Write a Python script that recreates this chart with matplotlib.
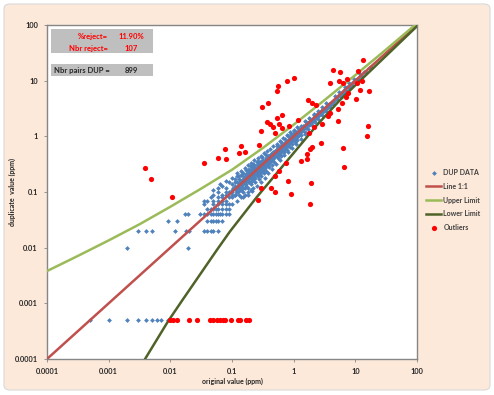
import matplotlib.pyplot as plt
from matplotlib.patches import FancyBboxPatch, Rectangle

plt.rcParams['font.family'] = ['Lato', 'DejaVu Sans']
plt.rcParams['font.weight'] = 'bold'

# summary numbers shown in the grey boxes
pct_reject = "11.90%"
nbr_reject = 107
nbr_pairs = 899

# duplicate pairs (original, duplicate) in ppm
dup_floor = [(0.0005, 0.0005), (0.001, 0.0005), (0.002, 0.0005), (0.003, 0.0005),
             (0.004, 0.0005), (0.005, 0.0005), (0.006, 0.0005), (0.007, 0.0005),
             (0.009, 0.0005)]

dup_low = [(0.002, 0.01), (0.003, 0.02), (0.004, 0.02), (0.005, 0.02), (0.009, 0.03),
           (0.013, 0.03), (0.012, 0.02), (0.017, 0.04), (0.019, 0.04), (0.018, 0.02),
           (0.02, 0.02), (0.019, 0.01),
           (0.035, 0.02), (0.04, 0.02), (0.045, 0.02), (0.05, 0.02), (0.06, 0.02),
           (0.04, 0.03), (0.045, 0.03), (0.05, 0.03), (0.055, 0.03), (0.06, 0.03), (0.07, 0.03),
           (0.03, 0.04), (0.035, 0.04), (0.04, 0.04), (0.045, 0.04), (0.05, 0.04), (0.055, 0.04),
           (0.06, 0.04), (0.065, 0.04), (0.07, 0.04), (0.08, 0.04), (0.09, 0.04),
           (0.04, 0.05), (0.045, 0.05), (0.05, 0.05), (0.055, 0.05), (0.06, 0.05), (0.07, 0.05),
           (0.08, 0.05), (0.09, 0.05),
           (0.035, 0.06), (0.05, 0.06), (0.06, 0.06), (0.07, 0.06), (0.08, 0.06), (0.09, 0.06),
           (0.1, 0.06),
           (0.035, 0.07), (0.04, 0.07), (0.05, 0.07), (0.06, 0.07), (0.07, 0.07), (0.08, 0.07),
           (0.045, 0.08), (0.06, 0.08), (0.07, 0.08), (0.09, 0.08), (0.1, 0.08),
           (0.05, 0.09), (0.07, 0.09), (0.08, 0.09), (0.1, 0.09), (0.11, 0.09),
           (0.06, 0.1), (0.08, 0.1), (0.09, 0.1), (0.1, 0.1), (0.12, 0.1),
           (0.06, 0.12), (0.065, 0.14), (0.07, 0.13), (0.08, 0.12), (0.05, 0.11),
           (0.09, 0.15), (0.08, 0.16)]

dup_mid = [(0.10, 0.11), (0.10, 0.14), (0.11, 0.09), (0.11, 0.13), (0.11, 0.17), (0.12, 0.10),
           (0.12, 0.12), (0.12, 0.15), (0.12, 0.19), (0.13, 0.09), (0.13, 0.12), (0.13, 0.14),
           (0.13, 0.17), (0.14, 0.11), (0.14, 0.13), (0.14, 0.16), (0.14, 0.20), (0.15, 0.10),
           (0.15, 0.14), (0.15, 0.17), (0.15, 0.22), (0.16, 0.12), (0.16, 0.15), (0.16, 0.18),
           (0.17, 0.13), (0.17, 0.16), (0.17, 0.21), (0.17, 0.25), (0.18, 0.12), (0.18, 0.17),
           (0.18, 0.19), (0.18, 0.23), (0.19, 0.15), (0.19, 0.20), (0.19, 0.26), (0.20, 0.14),
           (0.20, 0.18), (0.20, 0.21), (0.20, 0.24), (0.20, 0.29),
           (0.12, 0.07), (0.14, 0.08), (0.16, 0.09), (0.18, 0.10), (0.20, 0.11), (0.22, 0.12),
           (0.21, 0.19), (0.21, 0.25), (0.22, 0.17), (0.22, 0.22), (0.22, 0.27), (0.23, 0.20),
           (0.23, 0.24), (0.23, 0.31), (0.24, 0.18), (0.24, 0.22), (0.24, 0.27), (0.25, 0.21),
           (0.25, 0.25), (0.25, 0.30), (0.25, 0.35), (0.26, 0.19), (0.26, 0.24), (0.26, 0.28),
           (0.27, 0.22), (0.27, 0.26), (0.27, 0.33), (0.28, 0.21), (0.28, 0.25), (0.28, 0.30),
           (0.29, 0.24), (0.29, 0.28), (0.29, 0.36), (0.30, 0.23), (0.30, 0.27), (0.30, 0.31),
           (0.31, 0.26), (0.31, 0.34), (0.32, 0.25), (0.32, 0.29), (0.32, 0.38), (0.33, 0.28),
           (0.33, 0.32), (0.34, 0.27), (0.34, 0.35), (0.35, 0.30), (0.35, 0.33), (0.35, 0.41),
           (0.36, 0.29), (0.36, 0.37), (0.37, 0.32), (0.37, 0.36), (0.38, 0.30), (0.38, 0.40),
           (0.39, 0.35), (0.39, 0.44), (0.40, 0.33), (0.40, 0.38), (0.41, 0.36), (0.41, 0.42),
           (0.42, 0.34), (0.42, 0.47), (0.43, 0.39), (0.44, 0.37), (0.44, 0.43), (0.45, 0.41),
           (0.45, 0.50), (0.46, 0.39), (0.47, 0.44), (0.48, 0.42), (0.48, 0.52), (0.49, 0.46),
           (0.50, 0.44), (0.50, 0.55),
           (0.24, 0.15), (0.27, 0.17), (0.30, 0.19), (0.33, 0.22), (0.36, 0.24), (0.40, 0.28),
           (0.44, 0.31), (0.48, 0.35), (0.22, 0.32), (0.26, 0.36), (0.31, 0.42), (0.36, 0.46),
           (0.105, 0.12), (0.115, 0.11), (0.125, 0.13), (0.135, 0.15), (0.145, 0.14),
           (0.155, 0.16), (0.165, 0.15), (0.175, 0.18), (0.185, 0.16), (0.195, 0.19),
           (0.205, 0.20), (0.215, 0.21), (0.225, 0.23), (0.235, 0.22), (0.245, 0.24),
           (0.255, 0.26), (0.265, 0.25), (0.275, 0.28), (0.285, 0.27), (0.295, 0.30),
           (0.305, 0.29), (0.315, 0.31), (0.325, 0.33), (0.335, 0.31), (0.345, 0.34),
           (0.355, 0.36), (0.365, 0.35), (0.375, 0.38), (0.385, 0.37), (0.395, 0.40),
           (0.405, 0.41), (0.42, 0.40), (0.435, 0.44), (0.45, 0.45), (0.465, 0.46),
           (0.48, 0.48), (0.495, 0.50),
           (0.13, 0.105), (0.15, 0.12), (0.17, 0.14), (0.19, 0.17), (0.21, 0.16), (0.23, 0.18),
           (0.25, 0.20), (0.28, 0.23), (0.31, 0.24), (0.34, 0.30), (0.38, 0.33), (0.42, 0.37),
           (0.46, 0.43), (0.11, 0.15), (0.13, 0.19), (0.15, 0.19), (0.17, 0.19), (0.19, 0.23),
           (0.21, 0.28), (0.23, 0.27), (0.26, 0.31), (0.29, 0.33), (0.32, 0.35), (0.35, 0.38),
           (0.38, 0.44), (0.43, 0.48), (0.47, 0.53),
           (0.10, 0.18), (0.12, 0.22), (0.14, 0.24), (0.16, 0.27), (0.18, 0.30), (0.20, 0.33),
           (0.23, 0.37), (0.26, 0.40), (0.29, 0.45), (0.33, 0.50), (0.37, 0.55), (0.42, 0.60),
           (0.47, 0.66), (0.15, 0.08), (0.18, 0.09), (0.21, 0.105), (0.25, 0.13), (0.29, 0.15),
           (0.34, 0.18), (0.39, 0.22), (0.45, 0.26)]

dup_high = [(0.52, 0.48), (0.52, 0.58), (0.53, 0.45), (0.54, 0.51), (0.55, 0.62), (0.56, 0.50),
            (0.56, 0.55), (0.57, 0.47), (0.58, 0.60), (0.59, 0.54), (0.60, 0.52), (0.60, 0.66),
            (0.61, 0.57), (0.62, 0.53), (0.63, 0.61), (0.64, 0.70), (0.65, 0.58), (0.66, 0.63),
            (0.67, 0.55), (0.68, 0.66), (0.69, 0.74), (0.70, 0.62), (0.71, 0.68), (0.72, 0.59),
            (0.73, 0.77), (0.74, 0.70), (0.75, 0.65), (0.76, 0.73), (0.78, 0.82), (0.79, 0.69),
            (0.80, 0.76), (0.82, 0.72), (0.83, 0.86), (0.84, 0.79), (0.86, 0.75), (0.87, 0.92),
            (0.88, 0.83), (0.90, 0.78), (0.91, 0.88), (0.93, 0.97), (0.94, 0.85), (0.96, 0.91),
            (0.98, 1.05), (1.00, 0.94), (1.02, 0.88), (1.04, 1.10), (1.06, 0.98), (1.08, 1.03),
            (1.10, 0.95), (1.12, 1.18), (1.15, 1.07), (1.18, 1.01),
            (0.55, 0.40), (0.62, 0.45), (0.70, 0.52), (0.78, 0.58), (0.86, 0.64), (0.95, 0.72),
            (1.05, 0.80), (1.15, 0.87), (0.54, 0.68), (0.62, 0.78), (0.72, 0.88), (0.82, 1.00),
            (0.92, 1.12), (1.02, 1.24),
            (1.22, 1.14), (1.25, 1.30), (1.28, 1.20), (1.32, 1.25), (1.35, 1.42), (1.38, 1.31),
            (1.42, 1.35), (1.45, 1.52), (1.48, 1.40), (1.52, 1.45), (1.56, 1.63), (1.60, 1.50),
            (1.65, 1.58), (1.70, 1.76), (1.74, 1.62), (1.78, 1.70), (1.83, 1.90), (1.88, 1.78),
            (1.93, 1.83), (1.98, 2.05), (2.05, 1.92), (2.10, 2.00), (2.18, 2.25), (2.25, 2.12),
            (2.32, 2.20), (2.40, 2.48), (2.48, 2.35), (2.56, 2.42), (2.65, 2.72), (2.75, 2.60),
            (2.85, 2.70), (2.95, 3.05), (3.05, 2.88), (3.15, 3.00), (3.30, 3.36), (3.45, 3.25),
            (3.60, 3.42), (3.75, 3.85), (3.90, 3.70),
            (1.3, 1.05), (1.5, 1.22), (1.7, 1.38), (1.95, 1.58), (2.2, 1.80), (2.5, 2.05),
            (2.9, 2.40), (3.4, 2.85), (3.9, 3.30), (1.3, 1.55), (1.55, 1.85), (1.8, 2.15),
            (2.1, 2.50), (2.45, 2.90), (2.9, 3.40), (3.4, 3.95),
            (0.51, 0.51), (0.535, 0.54), (0.565, 0.56), (0.59, 0.59), (0.62, 0.62), (0.65, 0.66),
            (0.68, 0.69), (0.71, 0.71), (0.745, 0.75), (0.78, 0.77), (0.815, 0.82), (0.85, 0.86),
            (0.89, 0.89), (0.93, 0.92), (0.97, 0.98), (1.01, 1.02), (1.06, 1.05), (1.11, 1.12),
            (1.16, 1.15), (1.21, 1.22), (1.27, 1.27), (1.33, 1.33), (1.40, 1.40), (1.47, 1.46),
            (1.55, 1.55), (1.63, 1.64), (1.72, 1.71), (1.81, 1.82), (1.90, 1.90), (2.00, 2.00),
            (2.12, 2.10), (2.24, 2.25), (2.37, 2.36), (2.50, 2.50), (2.64, 2.62), (2.80, 2.80),
            (2.97, 2.96), (3.15, 3.15), (3.35, 3.33), (3.55, 3.56),
            (0.57, 0.65), (0.66, 0.73), (0.76, 0.83), (0.86, 0.96), (0.97, 1.08), (1.10, 1.22),
            (1.24, 1.38), (1.40, 1.56), (1.60, 1.78), (1.85, 2.05), (2.15, 2.40),
            (0.60, 0.49), (0.69, 0.58), (0.80, 0.67), (0.90, 0.82), (1.03, 0.92), (1.20, 1.07),
            (1.38, 1.24), (1.60, 1.42), (1.85, 1.66), (2.15, 1.92),
            (0.53, 0.74), (0.60, 0.82), (0.68, 0.92), (0.77, 1.05), (0.87, 1.18), (1.00, 1.32),
            (1.15, 1.50), (0.52, 0.32), (0.60, 0.38), (0.70, 0.46), (0.80, 0.53), (0.95, 0.62),
            (1.10, 0.74), (1.30, 0.90), (1.55, 1.10),
            (4.1, 4.0), (4.3, 4.4), (4.5, 4.3), (4.8, 4.9), (5.0, 4.7), (5.3, 5.4), (5.6, 5.3),
            (5.9, 6.1), (6.2, 5.9), (6.6, 6.8), (7.0, 6.6), (7.4, 7.6), (7.8, 7.4), (8.3, 8.5),
            (8.8, 8.3), (9.3, 9.5), (9.9, 9.4), (10.5, 10.8), (11.2, 10.6), (12.0, 12.3),
            (12.8, 12.1), (13.8, 14.1), (15.0, 14.4), (16.5, 16.8), (18.0, 17.5),
            (4.4, 3.8), (5.2, 4.5), (6.0, 5.3), (7.2, 6.3), (8.6, 7.6), (10.2, 9.0), (4.6, 5.2),
            (5.5, 6.2), (6.8, 7.6), (8.0, 9.0), (9.6, 10.7), (11.8, 13.0)]

outliers = [(0.010, 0.0005), (0.011, 0.0005), (0.013, 0.0005), (0.020, 0.0005),
            (0.027, 0.0005), (0.044, 0.0005), (0.049, 0.0005), (0.057, 0.0005),
            (0.064, 0.0005), (0.071, 0.0005), (0.077, 0.0005), (0.096, 0.0005),
            (0.124, 0.0005), (0.134, 0.0005), (0.17, 0.0005), (0.19, 0.0005),
            (0.0039, 0.27), (0.0049, 0.17), (0.0106, 0.081), (0.035, 0.33), (0.059, 0.41),
            (0.31, 3.3), (0.38, 3.9), (0.37, 1.8), (0.41, 1.7), (0.29, 1.24), (0.27, 0.70),
            (0.077, 0.59), (0.14, 0.67), (0.13, 0.50), (0.16, 0.52), (0.080, 0.39),
            (13.2, 23.3), (4.3, 15.4), (5.6, 14.2), (11.0, 14.8), (1.0, 11.1), (0.78, 9.8),
            (3.9, 9.0), (5.4, 9.8), (6.3, 9.0), (7.3, 10.6), (10.6, 9.0), (12.7, 9.8),
            (0.55, 8.0), (0.53, 6.5), (11.8, 6.7), (16.5, 6.5), (7.6, 6.0), (7.0, 5.1),
            (10.2, 4.7), (1.7, 4.5), (2.0, 3.9), (6.0, 3.9), (2.3, 3.6), (5.2, 3.1),
            (0.64, 2.4), (0.53, 2.1), (3.9, 2.6), (3.6, 2.3), (1.17, 1.95), (0.58, 1.66),
            (0.46, 1.46), (0.64, 1.40), (5.2, 1.9), (0.50, 1.14), (2.9, 1.66), (2.1, 1.46),
            (16.0, 1.52), (15.4, 1.0), (1.8, 1.14), (2.8, 0.75), (2.0, 0.64), (6.3, 0.61),
            (0.84, 1.52), (1.83, 0.59), (1.64, 0.48), (1.31, 0.36), (1.64, 0.39), (0.75, 0.33),
            (0.58, 0.24), (0.50, 0.19), (0.81, 0.157), (1.9, 0.145), (0.29, 0.117), (0.43, 0.12),
            (0.50, 0.10), (0.90, 0.092), (0.26, 0.072), (1.83, 0.061), (6.5, 0.28)]

# control lines
line_11_x = [0.0001, 100]
line_11_y = [0.0001, 100]
upper_x = [0.0001, 0.000316, 0.001, 0.00316, 0.01, 0.0316, 0.1, 0.316, 1, 3.16, 10, 31.6, 100]
upper_y = [0.0038, 0.0071, 0.0135, 0.0263, 0.0543, 0.115, 0.251, 0.617, 1.62, 4.47, 12.6, 36.3, 107]
lower_x = [0.00251, 0.00389, 0.00912, 0.0155, 0.0569, 0.0925, 0.253, 2.38, 5.61, 100]
lower_y = [0.00004, 0.0001, 0.00047, 0.00112, 0.0091, 0.0195, 0.0813, 1.585, 4.47, 95.1]

ticks = [0.0001, 0.001, 0.01, 0.1, 1, 10, 100]
tick_labels = ["0.0001", "0.001", "0.01", "0.1", "1", "10", "100"]

W, H = 494, 395
fig = plt.figure(figsize=(W / 100, H / 100), dpi=100)
fig.patch.set_facecolor('white')
fig.add_artist(FancyBboxPatch((4 / W, 5 / H), 486 / W, 386 / H,
                              boxstyle='round,pad=0,rounding_size=0.012',
                              transform=fig.transFigure, facecolor='#FDE9D9',
                              edgecolor='#D9D9D9', lw=0.8, zorder=-10))

ax = fig.add_axes([47 / W, 1 - 359 / H, 370 / W, 334 / H])
ax.set_facecolor('white')

blue = dup_floor + dup_low + dup_mid + dup_high
ax.scatter([p[0] for p in blue], [p[1] for p in blue], s=6, marker='D',
           color='#4F81BD', linewidths=0, zorder=2, label='DUP DATA')
ax.plot(line_11_x, line_11_y, color='#C0504D', lw=1.8, zorder=3, label='Line 1:1')
ax.plot(upper_x, upper_y, color='#9BBB59', lw=1.8, zorder=3, label='Upper Limit')
ax.plot(lower_x, lower_y, color='#4F6228', lw=1.8, zorder=3, label='Lower Limit')
ax.scatter([p[0] for p in outliers], [p[1] for p in outliers], s=14,
           color='#FF0000', linewidths=0, zorder=4, label='Outliers')

ax.set_xscale('log')
ax.set_yscale('log')
ax.set_xlim(0.0001, 100)
ax.set_ylim(0.0001, 100)
ax.set_xticks(ticks)
ax.set_xticklabels(tick_labels)
ax.set_yticks(ticks)
ax.set_yticklabels(tick_labels)
ax.minorticks_off()
ax.tick_params(labelsize=5.3, colors='#868686', labelcolor='#262626', length=2.5,
               width=0.6, pad=4)
for s in ax.spines.values():
    s.set_color('#868686')
    s.set_linewidth(1.0)

fig.text(232 / W, 1 - 381 / H, "original value (ppm)", ha='center', va='center',
         fontsize=5, color='#262626')
fig.text(12 / W, 1 - 192 / H, "duplicate  value (ppm)", ha='center', va='center',
         rotation=90, fontsize=5, color='#262626')

# info boxes
ax.add_patch(Rectangle((0.011, 0.916), 0.275, 0.072, transform=ax.transAxes,
                       facecolor='#BFBFBF', edgecolor='none', zorder=5))
ax.add_patch(Rectangle((0.011, 0.847), 0.275, 0.036, transform=ax.transAxes,
                       facecolor='#BFBFBF', edgecolor='none', zorder=5))
red_txt = dict(transform=ax.transAxes, fontsize=5.5, color='#FF0000', va='center', zorder=6)
ax.text(0.165, 0.967, "%reject=", ha='right', **red_txt)
ax.text(0.227, 0.967, pct_reject, ha='center', **red_txt)
ax.text(0.165, 0.931, "Nbr reject=", ha='right', **red_txt)
ax.text(0.227, 0.931, str(nbr_reject), ha='center', **red_txt)
ax.text(0.019, 0.865, "Nbr pairs DUP =", ha='left', va='center', transform=ax.transAxes,
        fontsize=5.5, color='#262626', zorder=6)
ax.text(0.227, 0.865, str(nbr_pairs), ha='center', va='center', transform=ax.transAxes,
        fontsize=5.5, color='#262626', zorder=6)

handles, labels = ax.get_legend_handles_labels()
fig.legend(handles, labels, loc='center left', bbox_to_anchor=(426 / W, 1 - 200 / H),
           frameon=False, fontsize=5, labelcolor='#404040', handlelength=2.2,
           handletextpad=0.3, labelspacing=0.95, borderpad=0, borderaxespad=0)

fig.savefig('out.png', dpi=100)
